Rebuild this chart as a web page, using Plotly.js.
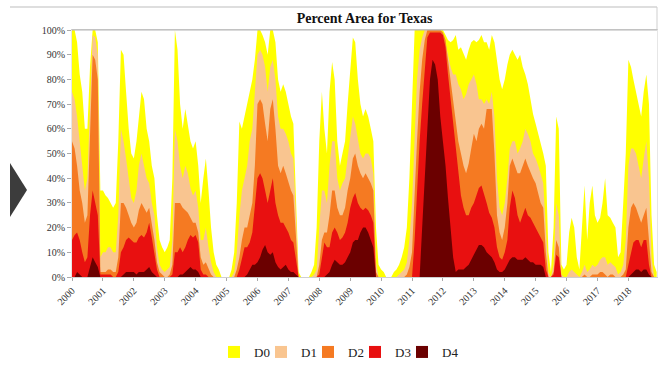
<!DOCTYPE html>
<html>
<head>
<meta charset="utf-8">
<script src="https://cdn.plot.ly/plotly-3.0.1.min.js"></script>
<style>
  html, body { margin: 0; padding: 0; background: #ffffff; }
  #chart { width: 662px; height: 366px; }
</style>
</head>
<body>
<div id="chart"></div>
<script>
// Monthly percent area of Texas in drought (cumulative: D0 = D0-D4, D1 = D1-D4, ...)
// one row per year, Jan..Dec, 2000..2018
const startYear = 2000;
const endYear = 2018;
const seriesNames = ["D0", "D1", "D2", "D3", "D4"];
const seriesColors = ["#FFFF00", "#F9C590", "#F57A22", "#E81010", "#6B0000"];

const D0 = [
  100,100, 95, 82, 75, 60, 60, 85,100,100, 95, 35,   // 2000
   35, 33, 32, 30, 28, 30, 55, 92, 90, 75, 60, 50,   // 2001
   48, 55, 65, 75, 72, 60, 55, 45, 40, 25, 15, 12,   // 2002
   10, 12, 15, 40,100, 92, 70, 60, 68, 62, 55, 52,   // 2003
   55, 45, 30, 40, 48, 35, 20, 10,  5,  3,  0,  0,   // 2004
    0,  0,  3, 10, 30, 63, 60, 65, 70, 75, 80, 88,   // 2005
  100,100, 98, 95, 90,100,100, 95, 80, 75, 78, 75,   // 2006
   70, 65, 62, 35,  2,  0,  0,  0,  0,  2,  5, 20,   // 2007
   55, 75, 60, 50, 75, 87, 80, 55, 45, 50, 55, 70,   // 2008
   85, 97, 95, 80, 70, 65, 68, 65, 60, 55, 20,  5,   // 2009
    3,  2,  0,  0,  0,  2,  3,  5,  8, 12, 20, 40,   // 2010
   75,100,100,100,100,100,100,100,100,100,100,100,   // 2011
  100, 98, 96, 95, 96, 98, 92, 93, 90, 88, 92, 95,   // 2012
   96, 95, 96, 98, 95, 95, 92, 98, 95, 88, 80, 76,   // 2013
   80, 86, 90, 92, 90, 88, 90, 85, 82, 78, 72, 66,   // 2014
   62, 58, 54, 50, 45, 10,  2, 20, 65, 60,  5,  3,   // 2015
    5, 18, 24, 20,  8,  3, 20, 37, 15, 30, 37, 25,   // 2016
   22, 24, 30, 40, 25, 24, 22, 20,  8, 10, 30, 50,   // 2017
   88, 85, 80, 75, 70, 65, 75, 82, 70, 25,  5,  2    // 2018
];
const D1 = [
   75, 72, 65, 55, 45, 35, 40, 70, 98, 97, 90,  8,
   10, 10, 12, 12, 10, 10, 25, 60, 55, 48, 40, 32,
   30, 35, 45, 50, 45, 40, 38, 30, 25, 12,  5,  3,
    2,  3,  4, 15, 60, 55, 45, 40, 45, 42, 36, 33,
   35, 28, 15, 15, 20, 12,  6,  2,  0,  0,  0,  0,
    0,  0,  0,  2, 10, 25, 35, 40, 45, 55, 60, 75,
   90, 92, 90, 85, 75, 85, 88, 80, 65, 60, 60, 58,
   55, 50, 48, 25,  0,  0,  0,  0,  0,  0,  1,  3,
   20, 35, 35, 30, 45, 55, 55, 40, 35, 38, 40, 48,
   55, 65, 62, 55, 50, 48, 50, 50, 48, 42,  6,  0,
    0,  0,  0,  0,  0,  0,  0,  1,  2,  3,  6, 15,
   30, 60, 80, 92, 97,100,100,100,100,100, 99, 99,
   98, 95, 90, 85, 82, 82, 78, 76, 72, 74, 78, 80,
   82, 78, 72, 72, 70, 72, 70, 75, 65, 40, 28, 25,
   30, 40, 52, 55, 55, 50, 52, 55, 60, 58, 55, 50,
   48, 45, 42, 38, 20,  2,  0,  5, 30, 25,  1,  0,
    0,  2,  3,  2,  1,  0,  2,  5,  2,  3,  5,  4,
    5,  7,  8,  8,  5,  6,  5,  4,  1,  2,  5, 15,
   45, 52, 52, 50, 45, 40, 48, 55, 40,  8,  0,  0
];
const D2 = [
   55, 52, 45, 35, 30, 22, 25, 55, 90, 88, 80,  2,
    2,  2,  3,  3,  2,  2,  8, 30, 30, 28, 25, 22,
   20, 22, 27, 30, 28, 26, 28, 22, 15,  6,  2,  1,
    0,  0,  1,  5, 30, 30, 30, 28, 27, 26, 24, 22,
   22, 18,  8,  5,  6,  3,  1,  0,  0,  0,  0,  0,
    0,  0,  0,  0,  3,  8, 15, 20, 20, 25, 30, 45,
   70, 72, 70, 62, 55, 68, 72, 60, 45, 42, 45, 42,
   38, 35, 33, 15,  0,  0,  0,  0,  0,  0,  0,  0,
    5, 15, 18, 18, 25, 35, 35, 28, 25, 25, 28, 35,
   40, 48, 50, 45, 42, 40, 42, 40, 38, 35,  2,  0,
    0,  0,  0,  0,  0,  0,  0,  0,  0,  0,  1,  4,
   10, 35, 55, 75, 88, 96,100,100,100,100,100,100,
   99, 96, 88, 80, 70, 62, 55, 50, 45, 42, 46, 52,
   58, 55, 60, 62, 60, 68, 68, 68, 50, 25, 18, 15,
   20, 30, 45, 48, 45, 42, 42, 45, 48, 45, 42, 40,
   38, 34, 30, 28, 10,  0,  0,  2, 15, 12,  0,  0,
    0,  0,  0,  0,  0,  0,  0,  1,  0,  0,  1,  1,
    1,  2,  2,  1,  0,  1,  1,  0,  0,  0,  1,  3,
   20, 28, 30, 28, 25, 22, 25, 28, 15,  2,  0,  0
];
const D3 = [
   15, 17, 18, 15, 10,  6,  8, 25, 35, 30, 25,  1,
    1,  1,  1,  1,  0,  0,  2, 10, 12, 15, 16, 15,
   14, 14, 16, 17, 16, 18, 22, 16, 10,  3,  0,  0,
    0,  0,  0,  1, 10, 10, 12, 10, 12, 15, 17, 16,
   17, 14,  3,  1,  1,  0,  0,  0,  0,  0,  0,  0,
    0,  0,  0,  0,  0,  3,  8, 12, 12, 14, 18, 28,
   40, 42, 40, 35, 30, 35, 40, 30, 25, 22, 22, 20,
   18, 15, 14,  7,  0,  0,  0,  0,  0,  0,  0,  0,
    1,  8, 14, 12, 12, 18, 20, 18, 15, 16, 18, 22,
   28, 32, 34, 30, 28, 27, 28, 27, 25, 22,  0,  0,
    0,  0,  0,  0,  0,  0,  0,  0,  0,  0,  0,  0,
    0, 15, 35, 55, 70, 85, 97, 99, 99, 99, 99, 99,
   98, 93, 82, 72, 60, 50, 43, 33, 28, 25, 25, 28,
   30, 33, 36, 37, 34, 30, 26, 24, 20, 12,  8,  7,
   10, 15, 28, 35, 32, 25, 22, 25, 28, 25, 24, 22,
   20, 18, 16, 14,  3,  0,  0,  1,  9,  8,  0,  0,
    0,  0,  0,  0,  0,  0,  0,  0,  0,  0,  0,  0,
    0,  0,  0,  0,  0,  0,  0,  0,  0,  0,  0,  0,
    5, 10, 14, 15, 15, 12, 15, 15,  5,  0,  0,  0
];
const D4 = [
    0,  0,  2,  1,  0,  0,  0,  4,  8,  6,  4,  0,
    0,  0,  0,  0,  0,  0,  0,  0,  1,  2,  2,  2,
    2,  1,  2,  2,  2,  3,  4,  2,  1,  0,  0,  0,
    0,  0,  0,  0,  0,  0,  1,  1,  2,  3,  4,  3,
    3,  2,  0,  0,  0,  0,  0,  0,  0,  0,  0,  0,
    0,  0,  0,  0,  0,  0,  0,  0,  1,  3,  5,  5,
    6,  8, 11, 13, 10,  9, 10,  6,  4,  3,  4,  5,
    3,  2,  2,  1,  0,  0,  0,  0,  0,  0,  0,  0,
    0,  0,  0,  1,  2,  5,  7,  6,  5,  5,  6,  8,
   10, 14, 15, 15, 18, 20, 20, 18, 15, 12,  0,  0,
    0,  0,  0,  0,  0,  0,  0,  0,  0,  0,  0,  0,
    0,  0,  0,  0, 20, 40, 60, 80, 88, 86, 80, 65,
   55, 45, 32, 20,  8,  2,  3,  3,  3,  4,  5,  7,
    9, 11, 13, 13, 12, 10,  9,  8,  6,  3,  2,  2,
    3,  5,  7,  8,  8,  7,  7,  7,  8,  7,  6,  6,
    5,  5,  5,  4,  0,  0,  0,  0,  0,  0,  0,  0,
    0,  0,  0,  0,  0,  0,  0,  0,  0,  0,  0,  0,
    0,  0,  0,  0,  0,  0,  0,  0,  0,  0,  0,  0,
    0,  1,  2,  3,  3,  2,  3,  3,  1,  0,  0,  0
];
const yTickVals = [0, 10, 20, 30, 40, 50, 60, 70, 80, 90, 100];
const yTickText = ["0%", "10%", "20%", "30%", "40%", "50%", "60%", "70%", "80%", "90%", "100%"];

// month dates (x categories)
const dates = [];
for (let y = startYear; y <= endYear; y++) {
  for (let m = 1; m <= 12; m++) {
    dates.push(y + "-" + String(m).padStart(2, "0") + "-01");
  }
}

const allSeries = [D0, D1, D2, D3, D4];
const traces = [];
allSeries.forEach((vals, i) => {
  traces.push({
    type: "scatter", mode: "lines", x: dates, y: vals,
    fill: "tozeroy", fillcolor: seriesColors[i],
    line: { width: 0, color: seriesColors[i] },
    name: seriesNames[i], showlegend: false, hoverinfo: "x+y+name"
  });
});
// legend entries
seriesNames.forEach((nm, i) => {
  traces.push({
    type: "scatter", mode: "markers", x: [null], y: [null],
    marker: { symbol: "square", size: 12, color: seriesColors[i] },
    name: nm, showlegend: true
  });
});
// invisible spacer entry so the last legend label is not clipped
traces.push({
  type: "scatter", mode: "markers", x: [null], y: [null],
  marker: { symbol: "square", size: 1, color: "rgba(0,0,0,0)" },
  name: " ", showlegend: true
});

// geometry helpers for decorations (pixel -> paper)
const L = 72, R = 5, T = 30, B = 89, W = 662, H = 366;
const pw = W - L - R, ph = H - T - B;
const px = X => (X - L) / pw;
const py = Y => (H - B - Y) / ph;

const serif = "Liberation Serif, Times New Roman, serif";

const layout = {
  width: W, height: H,
  margin: { l: L, r: R, t: T, b: B, pad: 0, autoexpand: false },
  paper_bgcolor: "#ffffff", plot_bgcolor: "#ffffff",
  title: {
    text: "<b>Percent Area for Texas</b>",
    font: { family: serif, size: 14, color: "#111" },
    xref: "paper", x: 0.5, xanchor: "center",
    yref: "container", y: 1 - 18 / H, yanchor: "middle"
  },
  xaxis: {
    type: "date",
    range: ["2000-01-01", "2018-12-05"],
    tick0: "2000-01-01", dtick: "M12", tickformat: "%Y",
    tickangle: -45,
    tickfont: { family: serif, size: 10, color: "#333" },
    ticks: "outside", ticklen: 3, tickcolor: "#aaa",
    showgrid: false, zeroline: false, automargin: false,
    showline: true, linecolor: "#cfcfcf", linewidth: 1, mirror: true
  },
  yaxis: {
    range: [0, 100], tickvals: yTickVals, ticktext: yTickText,
    tickfont: { family: serif, size: 10, color: "#333" },
    ticks: "outside", ticklen: 4, tickcolor: "#aaa",
    showgrid: false, zeroline: false, automargin: false,
    showline: true, linecolor: "#e6e6e6", linewidth: 1, mirror: true
  },
  showlegend: true,
  legend: {
    orientation: "h", x: px(214), xanchor: "left",
    y: py(352), yanchor: "middle",
    font: { family: serif, size: 13, color: "#222" },
    itemwidth: 30, entrywidth: 2, tracegroupgap: 0, bgcolor: "rgba(0,0,0,0)"
  },
  shapes: [
    { type: "line", xref: "paper", yref: "paper", x0: px(10), x1: px(657), y0: py(7), y1: py(7),
      line: { color: "#bdbdbd", width: 1 } },
    { type: "line", xref: "paper", yref: "paper", x0: px(657), x1: px(657), y0: py(7), y1: py(30),
      line: { color: "#cfcfcf", width: 1 } },
    { type: "line", xref: "paper", yref: "paper", x0: 0, x1: 1, y0: py(30), y1: py(30),
      line: { color: "#b5b5b5", width: 1 } },
    { type: "path", xref: "paper", yref: "paper",
      path: "M " + px(10) + " " + py(163) + " L " + px(27) + " " + py(190) + " L " + px(10) + " " + py(217) + " Z",
      fillcolor: "#3c3c3c", line: { width: 0 } }
  ]
};

Plotly.newPlot("chart", traces, layout, { displayModeBar: false, staticPlot: true });
</script>
</body>
</html>
